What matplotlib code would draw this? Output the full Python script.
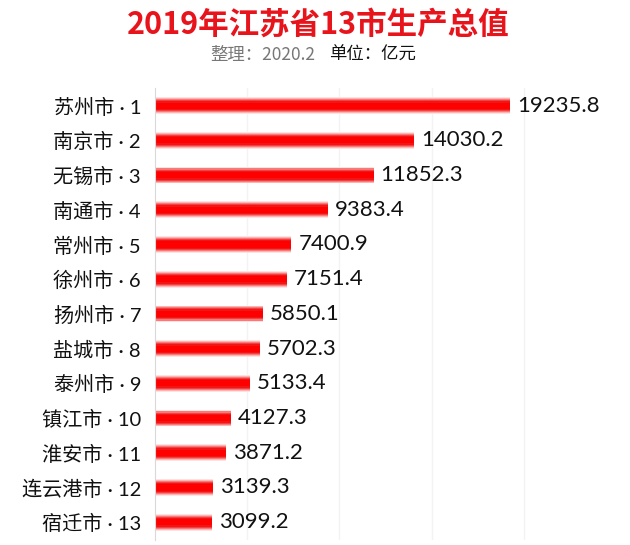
import matplotlib
matplotlib.use("Agg")
import matplotlib.pyplot as plt
import numpy as np

plt.rcParams['font.family'] = ['Noto Sans CJK SC', 'DejaVu Sans']
latin_cjk = ['Lato', 'Noto Sans CJK SC']

# Data
cities = ["苏州市", "南京市", "无锡市", "南通市", "常州市", "徐州市", "扬州市",
          "盐城市", "泰州市", "镇江市", "淮安市", "连云港市", "宿迁市"]
ranks = list(range(1, 14))
gdp = [19235.8, 14030.2, 11852.3, 9383.4, 7400.9, 7151.4, 5850.1,
       5702.3, 5133.4, 4127.3, 3871.2, 3139.3, 3099.2]

labels = [f"{c} · {r}" for c, r in zip(cities, ranks)]

fig = plt.figure(figsize=(6.3, 5.45), dpi=100)
ax = fig.add_axes([0.246, 0.01, 0.732, 0.828])

y = np.arange(len(gdp))

# fake a vertical gradient on each bar with stacked layers
layers = [(0.48, "#fde2e2"), (0.43, "#fbb4b4"), (0.38, "#f77a7a"),
          (0.32, "#f44040"), (0.26, "#f21515"), (0.18, "#ff0000")]
for h, col in layers:
    ax.barh(y, gdp, height=h, color=col, edgecolor="none", zorder=2)

for yi, v in zip(y, gdp):
    ax.text(v + 380, yi, f"{v:.1f}", va="center", ha="left",
            fontsize=16, color="#111111", family=latin_cjk)

ax.set_yticks(y)
ax.set_yticklabels(labels, fontsize=14.5, color="#111111", family=latin_cjk)
ax.tick_params(axis="y", length=0, pad=10)
ax.set_ylim(len(gdp) - 0.5, -0.5)
ax.set_xlim(0, 25000)
ax.set_xticks([5000, 10000, 15000, 20000])
ax.tick_params(axis="x", length=0, labelbottom=False)
ax.grid(axis="x", color="#f3f3f3", linewidth=1, zorder=0)

for s in ["top", "right", "bottom"]:
    ax.spines[s].set_visible(False)
ax.spines["left"].set_color("#d9d9d9")

fig.text(0.505, 0.955, "2019年江苏省13市生产总值", ha="center", va="center",
         fontsize=22, fontweight="bold", color="#e8141c")
fig.text(0.5, 0.899, "整理：2020.2", ha="right", va="center",
         fontsize=12.5, color="#777777")
fig.text(0.523, 0.899, "单位：亿元", ha="left", va="center",
         fontsize=12.5, color="#111111")

fig.savefig("out.png", dpi=100)
